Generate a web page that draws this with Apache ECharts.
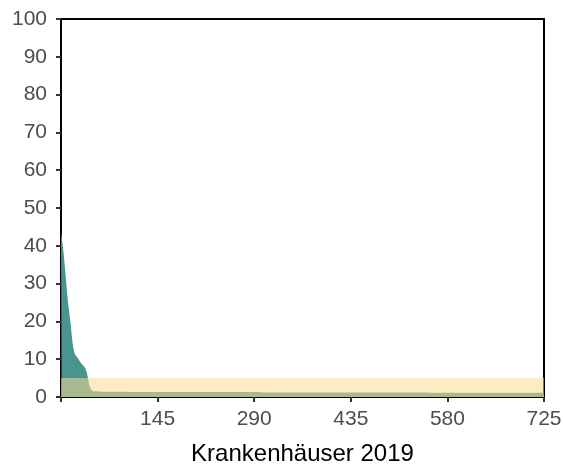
<!DOCTYPE html>
<html>
<head>
<meta charset="utf-8">
<script src="https://cdn.jsdelivr.net/npm/echarts@6/dist/echarts.min.js"></script>
<style>
  html, body { margin: 0; padding: 0; background: #fff; }
  #chart { width: 563px; height: 466px; }
</style>
</head>
<body>
<div id="chart"></div>
<script>
const headValues = [
  43.5, 42.5, 41, 39.5, 38, 36, 34, 32, 30, 28,
  26, 24.5, 23, 21.5, 20, 18.5, 16.5, 15, 13.5, 12.5,
  11.8, 11.3, 11, 10.8, 10.6, 10.4, 10.2, 9.8, 9.5, 9.2,
  9.0, 8.8, 8.6, 8.4, 8.2, 8.0, 7.8, 7.4, 7.0, 6.3,
  5.4, 4.5, 3.6, 2.9, 2.5, 2.1, 1.8, 1.6,
];
// restliche Häuser als [Wert, Anzahl]
const tailRuns = [
  [1.5, 10],
  [1.4, 40],
  [1.3, 200],
  [1.2, 250],
  [1.1, 177],
];
const xTicks = [145, 290, 435, 580, 725];
const bandRange = [0, 5]; // gelber Bereich

let values = headValues.slice();
tailRuns.forEach(([v, n]) => {
  for (let k = 0; k < n; k++) values.push(v);
});
// Stufen: Haus i belegt [i-1, i]
const seriesData = values.map((v, i) => [i, v]);
seriesData.push([values.length, values[values.length - 1]]);

const myChart = echarts.init(document.getElementById("chart"));
myChart.setOption({
  animation: false,
  textStyle: { fontFamily: "Liberation Sans, Arial, sans-serif" },
  grid: {
    left: 61,
    right: 19,
    top: 19,
    bottom: 69,
    outerBoundsMode: "none",
    containLabel: false,
    show: true,
    borderColor: "#000",
    borderWidth: 2,
    backgroundColor: "#fff",
  },
  xAxis: {
    type: "value",
    min: 0,
    max: values.length,
    interval: 145,
    name: "Krankenhäuser 2019",
    nameLocation: "middle",
    nameGap: 45,
    nameTextStyle: { fontSize: 24, color: "#000" },
    splitLine: { show: false },
    axisLine: { lineStyle: { color: "#000", width: 2 } },
    axisTick: { length: 5, lineStyle: { color: "#333", width: 2 } },
    axisLabel: {
      fontSize: 21,
      color: "#4d4d4d",
      margin: 12,
      formatter: (v) => (xTicks.indexOf(v) >= 0 ? String(v) : ""),
    },
  },
  yAxis: {
    type: "value",
    min: 0,
    max: 100,
    interval: 10,
    splitLine: { show: false },
    axisLine: { lineStyle: { color: "#000", width: 2 } },
    axisTick: { length: 5, lineStyle: { color: "#333", width: 2 } },
    axisLabel: { fontSize: 21, color: "#4d4d4d", margin: 14 },
  },
  series: [
    {
      name: "Fälle",
      type: "line",
      step: "end",
      symbol: "none",
      lineStyle: { width: 0 },
      areaStyle: { color: "#4a948f", opacity: 1 },
      data: seriesData,
      z: 2,
    },
    {
      name: "Bereich",
      type: "line",
      data: [],
      z: 3,
      markArea: {
        silent: true,
        z: 5,
        itemStyle: { color: "rgba(251, 218, 146, 0.54)" },
        data: [[{ yAxis: bandRange[0] }, { yAxis: bandRange[1] }]],
      },
    },
  ],
});
</script>
</body>
</html>
